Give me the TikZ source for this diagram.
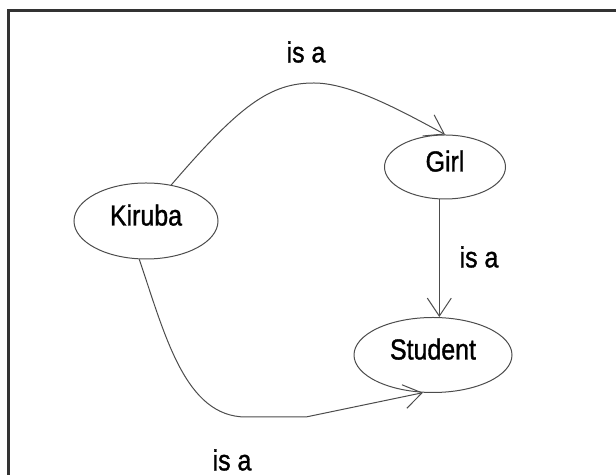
\documentclass[tikz,border=0pt]{standalone}
\usepackage{fontspec}
\setmainfont{Liberation Sans}[FakeStretch=0.86,FakeBold=1.2]
\usetikzlibrary{shapes.geometric,arrows.meta}

\begin{document}
\begin{tikzpicture}[x=0.5pt,y=0.5pt,
    concept/.style={ellipse,draw=black!70,line width=0.5pt,inner sep=0pt,text depth=6pt,font=\fontsize{14.5}{16}\selectfont},
    isa/.style={draw=black!70,line width=0.5pt,-{Straight Barb[length=9pt,width=12pt]}},
    lbl/.style={font=\fontsize{14.5}{16}\selectfont}]
    \useasboundingbox (0, 0) rectangle (616, 475);
    \draw[line width=1.5pt,black!80] (8, -5) -- (8, 464) -- (621, 464);

    \node[concept,minimum width=72pt,minimum height=38pt] (K) at (146, 254) {Kiruba};
    \node[concept,minimum width=60.5pt,minimum height=32pt] (G) at (445, 308) {Girl};
    \node[concept,minimum width=79pt,minimum height=37.5pt] (S) at (433, 120) {Student};

    \node[lbl] (isaKG) at (306, 423) {is a};
    \node[lbl] (isaGS) at (479, 218) {is a};
    \node[lbl] (isaKS) at (232, 15) {is a};

    \draw[isa] (K.55) .. controls (240, 370) and (270, 392) .. (314, 392)
        .. controls (350, 392) and (400, 365) .. (G.north);
    \draw[isa] (G.260) -- (G.260 |- S.north);
    \draw[isa] (K.260) .. controls (165, 140) and (185, 58) .. (246, 58)
        -- (306, 58) -- (S.255);
\end{tikzpicture}
\end{document}
